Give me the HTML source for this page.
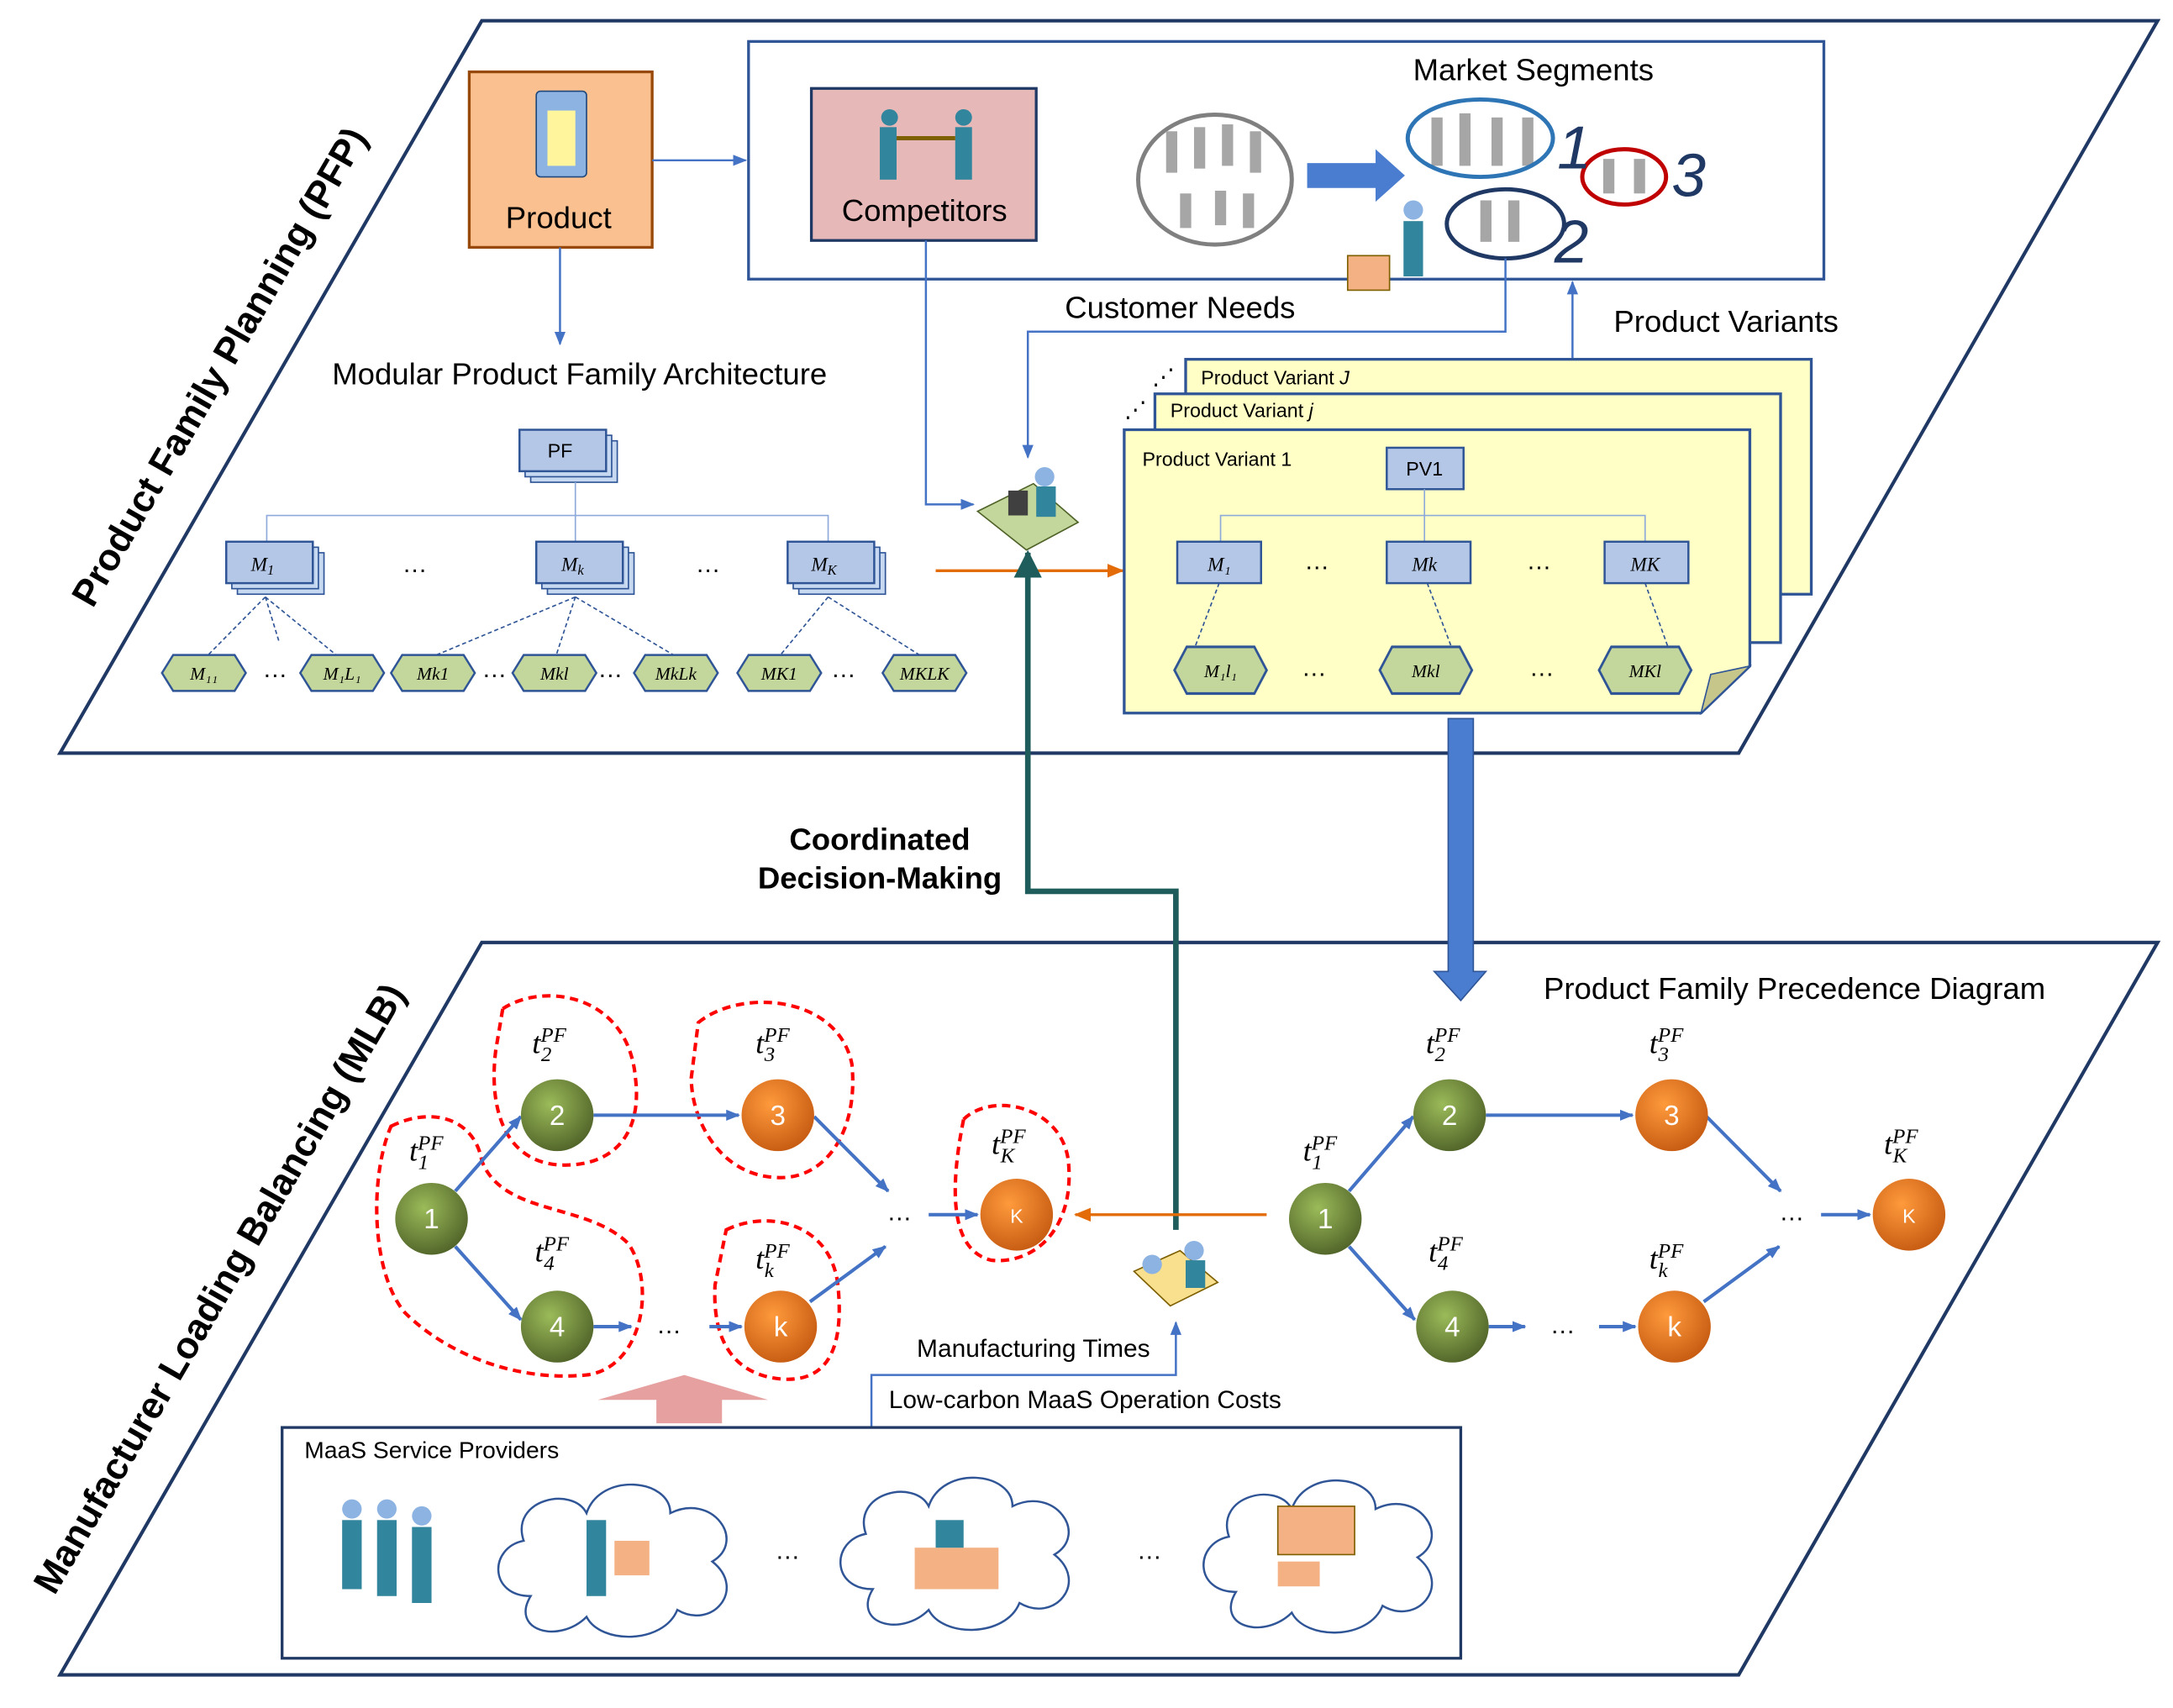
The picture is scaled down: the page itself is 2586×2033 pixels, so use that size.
<!DOCTYPE html>
<html><head><meta charset="utf-8"><style>html,body{margin:0;padding:0;background:#fff}svg{display:block}</style></head>
<body>
<svg width="2586" height="2033" viewBox="0 0 1556 1236" preserveAspectRatio="none" xmlns="http://www.w3.org/2000/svg" font-family="Liberation Sans, sans-serif">
<defs>
<marker id="a" markerUnits="userSpaceOnUse" markerWidth="10" markerHeight="8" refX="9" refY="4" orient="auto"><path d="M0,0 L10,4 L0,8 z" fill="#4472c4"/></marker>
<marker id="ao" markerUnits="userSpaceOnUse" markerWidth="12" markerHeight="10" refX="11" refY="5" orient="auto"><path d="M0,0 L12,5 L0,10 z" fill="#e36c09"/></marker>
<marker id="at" markerUnits="userSpaceOnUse" markerWidth="20" markerHeight="20" refX="18" refY="10" orient="auto"><path d="M0,0 L20,10 L0,20 z" fill="#1f5c5c"/></marker>
<radialGradient id="g" cx="0.4" cy="0.35" r="0.7"><stop offset="0" stop-color="#9bbb59"/><stop offset="1" stop-color="#4f6228"/></radialGradient>
<radialGradient id="o" cx="0.4" cy="0.35" r="0.7"><stop offset="0" stop-color="#ff9a3c"/><stop offset="1" stop-color="#c55a11"/></radialGradient>
<g id="mb"><rect x="8" y="8" width="62" height="30" fill="#c6d9f1" stroke="#2f5597"/><rect x="4" y="4" width="62" height="30" fill="#c6d9f1" stroke="#2f5597"/><rect x="0" y="0" width="62" height="30" fill="#b4c7e7" stroke="#2f5597" stroke-width="1.5"/></g>
<path id="hx" d="M-30,0 L-22,-13 L22,-13 L30,0 L22,13 L-22,13 z" fill="#c3d69b" stroke="#2f5597" stroke-width="1.5"/>
<g id="cl"><path d="M-60,30 C-90,30 -90,-5 -65,-10 C-75,-40 -30,-50 -20,-30 C-10,-60 40,-55 40,-30 C70,-45 95,-10 70,5 C95,25 70,55 45,40 C35,65 -10,65 -20,45 C-40,65 -75,55 -60,30 z" fill="#fff" stroke="#2f5597" stroke-width="1.5"/></g>
</defs>
<polygon points="345,15 1545,15 1245,545 43,545" fill="#fff" stroke="#1f3864" stroke-width="2.5"/>
<polygon points="345,682 1545,682 1245,1212 43,1212" fill="#fff" stroke="#1f3864" stroke-width="2.5"/>
<text transform="translate(165,270) rotate(-60)" text-anchor="middle" font-size="27" font-weight="bold">Product Family Planning (PFP)</text>
<text transform="translate(165,937) rotate(-60)" text-anchor="middle" font-size="27" font-weight="bold">Manufacturer Loading Balancing (MLB)</text>

<rect x="336" y="52" width="131" height="127" fill="#fac090" stroke="#984807" stroke-width="2"/>
<rect x="384" y="66" width="36" height="62" rx="3" fill="#8db3e2" stroke="#1f497d"/><rect x="392" y="80" width="20" height="40" fill="#fff59d"/>
<text x="400" y="165" text-anchor="middle" font-size="22">Product</text>
<rect x="536" y="30" width="770" height="172" fill="#fff" stroke="#2f5597" stroke-width="2"/>
<rect x="581" y="64" width="161" height="110" fill="#e6b9b8" stroke="#1f3864" stroke-width="2"/>
<g fill="#31859c"><circle cx="637" cy="85" r="6"/><rect x="630" y="92" width="12" height="38"/><circle cx="690" cy="85" r="6"/><rect x="684" y="92" width="12" height="38"/></g>
<line x1="642" y1="100" x2="684" y2="100" stroke="#7f6000" stroke-width="3"/>
<text x="662" y="160" text-anchor="middle" font-size="22">Competitors</text>
<text x="1098" y="58" text-anchor="middle" font-size="22">Market Segments</text>
<ellipse cx="870" cy="130" rx="55" ry="47" fill="#fff" stroke="#808080" stroke-width="3"/>
<g fill="#a6a6a6"><rect x="835" y="95" width="8" height="30"/><rect x="855" y="92" width="8" height="30"/><rect x="875" y="90" width="8" height="30"/><rect x="895" y="95" width="8" height="30"/><rect x="845" y="140" width="8" height="25"/><rect x="870" y="138" width="8" height="25"/><rect x="890" y="140" width="8" height="25"/></g>
<path d="M936,118 L985,118 L985,108 L1006,127 L985,146 L985,136 L936,136 z" fill="#4a7dd0"/>
<g fill="#a6a6a6"><rect x="1025" y="85" width="8" height="35"/><rect x="1045" y="82" width="8" height="38"/><rect x="1068" y="85" width="8" height="35"/><rect x="1090" y="85" width="8" height="35"/><rect x="1148" y="115" width="8" height="25"/><rect x="1170" y="115" width="8" height="25"/><rect x="1060" y="145" width="8" height="30"/><rect x="1080" y="145" width="8" height="30"/></g>
<ellipse cx="1060" cy="100" rx="52" ry="28" fill="none" stroke="#2e75b6" stroke-width="3"/>
<ellipse cx="1163" cy="128" rx="30" ry="20" fill="none" stroke="#c00000" stroke-width="3"/>
<ellipse cx="1078" cy="162" rx="42" ry="25" fill="none" stroke="#1f3864" stroke-width="3"/>
<g font-size="44" font-style="italic" fill="#1f3864"><text x="1115" y="122">1</text><text x="1197" y="142">3</text><text x="1113" y="190">2</text></g>
<rect x="965" y="185" width="30" height="25" fill="#f4b183" stroke="#7f6000"/><circle cx="1012" cy="152" r="7" fill="#8db3e2"/><rect x="1005" y="160" width="14" height="40" fill="#31859c"/>
<text x="845" y="230" text-anchor="middle" font-size="22">Customer Needs</text>
<text x="1236" y="240" text-anchor="middle" font-size="22">Product Variants</text>
<line x1="467" y1="116" x2="534" y2="116" stroke="#4472c4" stroke-width="1.5" marker-end="url(#a)"/>
<line x1="401" y1="179" x2="401" y2="249" stroke="#4472c4" stroke-width="1.5" marker-end="url(#a)"/>
<text x="415" y="278" text-anchor="middle" font-size="22">Modular Product Family Architecture</text>
<polyline points="663,174 663,365 697,365" fill="none" stroke="#4472c4" stroke-width="1.5" marker-end="url(#a)"/>
<polyline points="1078,187 1078,240 736,240 736,331" fill="none" stroke="#4472c4" stroke-width="1.5" marker-end="url(#a)"/>
<line x1="1126" y1="262" x2="1126" y2="204" stroke="#4472c4" stroke-width="1.5" marker-end="url(#a)"/>
<path d="M700,370 L740,350 L772,378 L735,398 z" fill="#c3d69b" stroke="#4f6228"/><circle cx="748" cy="345" r="7" fill="#8db3e2"/><rect x="742" y="352" width="14" height="22" fill="#31859c"/><rect x="722" y="355" width="14" height="18" fill="#404040"/>
<line x1="670" y1="413" x2="804" y2="413" stroke="#e36c09" stroke-width="2" marker-end="url(#ao)"/>
<polyline points="842,890 842,645 736,645 736,400" fill="none" stroke="#1f5c5c" stroke-width="4" marker-end="url(#at)"/>
<text x="630" y="615" text-anchor="middle" font-size="22" font-weight="bold">Coordinated</text>
<text x="630" y="643" text-anchor="middle" font-size="22" font-weight="bold">Decision-Making</text>
<path d="M1037,520 L1055,520 L1055,703 L1064,703 L1046,724 L1027,703 L1037,703 z" fill="#4a7dd0" stroke="#2f5597"/>

<use href="#mb" x="372" y="311"/><text x="401" y="331" text-anchor="middle" font-size="14">PF</text>
<polyline points="191,392 191,373 593,373 593,392" fill="none" stroke="#8eaadb"/><line x1="412" y1="349" x2="412" y2="392" stroke="#8eaadb"/>
<use href="#mb" x="162" y="392"/><use href="#mb" x="384" y="392"/><use href="#mb" x="564" y="392"/>
<g font-family="Liberation Serif, serif" font-style="italic" font-size="14" text-anchor="middle"><text x="188" y="413">M<tspan font-size="10" dy="3">1</tspan></text><text x="410" y="413">M<tspan font-size="10" dy="3">k</tspan></text><text x="590" y="413">M<tspan font-size="10" dy="3">K</tspan></text></g>
<g font-size="18"><text x="288" y="414">…</text><text x="498" y="414">…</text></g>
<g stroke="#2f5597" stroke-dasharray="3,2" fill="none"><line x1="190" y1="432" x2="148" y2="475"/><line x1="190" y1="432" x2="200" y2="465"/><line x1="190" y1="432" x2="242" y2="475"/><line x1="412" y1="432" x2="310" y2="475"/><line x1="412" y1="432" x2="398" y2="475"/><line x1="412" y1="432" x2="484" y2="475"/><line x1="593" y1="432" x2="558" y2="475"/><line x1="593" y1="432" x2="660" y2="475"/></g>
<use href="#hx" x="146" y="487"/><use href="#hx" x="245" y="487"/><use href="#hx" x="310" y="487"/><use href="#hx" x="397" y="487"/><use href="#hx" x="484" y="487"/><use href="#hx" x="558" y="487"/><use href="#hx" x="662" y="487"/>
<g font-family="Liberation Serif, serif" font-style="italic" font-size="13" text-anchor="middle"><text x="146" y="492">M₁₁</text><text x="245" y="492">M₁L₁</text><text x="310" y="492">Mk1</text><text x="397" y="492">Mkl</text><text x="484" y="492">MkLk</text><text x="558" y="492">MK1</text><text x="662" y="492">MKLK</text></g>
<g font-size="18"><text x="188" y="490">…</text><text x="345" y="490">…</text><text x="428" y="490">…</text><text x="595" y="490">…</text></g>

<rect x="849" y="260" width="448" height="170" fill="#ffffc6" stroke="#2f5597" stroke-width="2"/>
<rect x="827" y="285" width="448" height="180" fill="#ffffc6" stroke="#2f5597" stroke-width="2"/>
<path d="M805,311 L1253,311 L1253,482 L1218,516 L805,516 z" fill="#ffffc6" stroke="#2f5597" stroke-width="2"/>
<path d="M1218,516 L1225,488 L1253,482 z" fill="#c6c68a" stroke="#2f5597"/>
<text x="860" y="278" font-size="14">Product Variant <tspan font-style="italic">J</tspan></text>
<text x="838" y="302" font-size="14">Product Variant <tspan font-style="italic">j</tspan></text>
<text x="818" y="337" font-size="14">Product Variant  1</text>
<text x="825" y="278" font-size="16">⋰</text><text x="805" y="302" font-size="16">⋰</text>
<rect x="993" y="324" width="55" height="30" fill="#b4c7e7" stroke="#2f5597" stroke-width="1.5"/><text x="1020" y="344" text-anchor="middle" font-size="14">PV1</text>
<polyline points="874,392 874,373 1178,373 1178,392" fill="none" stroke="#8eaadb"/><line x1="1020" y1="354" x2="1020" y2="392" stroke="#8eaadb"/>
<rect x="843" y="392" width="60" height="30" fill="#b4c7e7" stroke="#2f5597" stroke-width="1.5"/><rect x="993" y="392" width="60" height="30" fill="#b4c7e7" stroke="#2f5597" stroke-width="1.5"/><rect x="1149" y="392" width="60" height="30" fill="#b4c7e7" stroke="#2f5597" stroke-width="1.5"/>
<g font-family="Liberation Serif, serif" font-style="italic" font-size="14" text-anchor="middle"><text x="873" y="413">M₁</text><text x="1020" y="413">Mk</text><text x="1178" y="413">MK</text></g>
<g font-size="18"><text x="934" y="412">…</text><text x="1093" y="412">…</text><text x="932" y="489">…</text><text x="1095" y="489">…</text></g>
<g stroke="#2f5597" stroke-dasharray="3,2"><line x1="873" y1="422" x2="855" y2="470"/><line x1="1022" y1="422" x2="1040" y2="470"/><line x1="1178" y1="422" x2="1195" y2="470"/></g>
<g transform="translate(874,485) scale(1.1,1.3)"><use href="#hx"/></g><g transform="translate(1021,485) scale(1.1,1.3)"><use href="#hx"/></g><g transform="translate(1178,485) scale(1.1,1.3)"><use href="#hx"/></g>
<g font-family="Liberation Serif, serif" font-style="italic" font-size="13" text-anchor="middle"><text x="874" y="490">M₁l₁</text><text x="1021" y="490">Mkl</text><text x="1178" y="490">MKl</text></g>

<text x="1285" y="723" text-anchor="middle" font-size="22">Product Family Precedence Diagram</text>
<g fill="none" stroke="#ff0000" stroke-width="2.5" stroke-dasharray="6,4">
<path d="M360,730 C390,710 450,720 455,780 C460,820 440,845 400,843 C360,840 350,800 355,760 z"/>
<path d="M500,740 C530,715 600,720 610,770 C615,820 590,855 555,852 C515,850 495,810 495,780 z"/>
<path d="M690,810 C710,790 760,800 765,840 C770,890 740,915 710,912 C680,905 680,860 690,810 z"/>
<path d="M520,890 C550,875 595,885 600,930 C605,980 590,1000 560,998 C525,995 510,970 512,930 z"/>
<path d="M280,815 C310,800 340,810 345,840 C360,880 420,870 450,900 C470,930 460,990 420,995 C370,1000 320,980 290,950 C265,920 265,850 280,815 z"/>
</g>
<g stroke="#4472c4" stroke-width="2.5" fill="none">
<line x1="326" y1="862" x2="373" y2="808" marker-end="url(#a)"/><line x1="326" y1="902" x2="373" y2="955" marker-end="url(#a)"/><line x1="425" y1="807" x2="529" y2="807" marker-end="url(#a)"/><line x1="583" y1="808" x2="636" y2="862" marker-end="url(#a)"/><line x1="425" y1="960" x2="452" y2="960" marker-end="url(#a)"/><line x1="508" y1="960" x2="531" y2="960" marker-end="url(#a)"/><line x1="580" y1="942" x2="634" y2="902" marker-end="url(#a)"/><line x1="665" y1="879" x2="700" y2="879" marker-end="url(#a)"/>
<line x1="966" y1="862" x2="1012" y2="808" marker-end="url(#a)"/><line x1="966" y1="902" x2="1013" y2="955" marker-end="url(#a)"/><line x1="1064" y1="807" x2="1169" y2="807" marker-end="url(#a)"/><line x1="1222" y1="808" x2="1275" y2="862" marker-end="url(#a)"/><line x1="1066" y1="960" x2="1092" y2="960" marker-end="url(#a)"/><line x1="1145" y1="960" x2="1171" y2="960" marker-end="url(#a)"/><line x1="1220" y1="942" x2="1274" y2="902" marker-end="url(#a)"/><line x1="1304" y1="879" x2="1339" y2="879" marker-end="url(#a)"/>
</g>
<g font-size="18"><text x="635" y="883">…</text><text x="470" y="965">…</text><text x="1274" y="883">…</text><text x="1110" y="965">…</text></g>
<g font-size="20" fill="#fff" text-anchor="middle">
<circle cx="309" cy="882" r="26" fill="url(#g)"/><text x="309" y="889">1</text>
<circle cx="399" cy="807" r="26" fill="url(#g)"/><text x="399" y="814">2</text>
<circle cx="557" cy="807" r="26" fill="url(#o)"/><text x="557" y="814">3</text>
<circle cx="399" cy="960" r="26" fill="url(#g)"/><text x="399" y="967">4</text>
<circle cx="559" cy="960" r="26" fill="url(#o)"/><text x="559" y="967">k</text>
<circle cx="728" cy="879" r="26" fill="url(#o)"/><text x="728" y="885" font-size="14">K</text>
<circle cx="949" cy="882" r="26" fill="url(#g)"/><text x="949" y="889">1</text>
<circle cx="1038" cy="807" r="26" fill="url(#g)"/><text x="1038" y="814">2</text>
<circle cx="1197" cy="807" r="26" fill="url(#o)"/><text x="1197" y="814">3</text>
<circle cx="1040" cy="960" r="26" fill="url(#g)"/><text x="1040" y="967">4</text>
<circle cx="1199" cy="960" r="26" fill="url(#o)"/><text x="1199" y="967">k</text>
<circle cx="1367" cy="879" r="26" fill="url(#o)"/><text x="1367" y="885" font-size="14">K</text>
</g>
<g font-family="Liberation Serif, serif" font-style="italic" font-size="22">
<text x="293" y="840">t<tspan font-size="15" dy="-8">PF</tspan><tspan font-size="15" dx="-18" dy="14">1</tspan></text>
<text x="381" y="762">t<tspan font-size="15" dy="-8">PF</tspan><tspan font-size="15" dx="-18" dy="14">2</tspan></text>
<text x="541" y="762">t<tspan font-size="15" dy="-8">PF</tspan><tspan font-size="15" dx="-18" dy="14">3</tspan></text>
<text x="383" y="913">t<tspan font-size="15" dy="-8">PF</tspan><tspan font-size="15" dx="-18" dy="14">4</tspan></text>
<text x="541" y="918">t<tspan font-size="15" dy="-8">PF</tspan><tspan font-size="15" dx="-18" dy="14">k</tspan></text>
<text x="710" y="835">t<tspan font-size="15" dy="-8">PF</tspan><tspan font-size="15" dx="-18" dy="14">K</tspan></text>
<text x="933" y="840">t<tspan font-size="15" dy="-8">PF</tspan><tspan font-size="15" dx="-18" dy="14">1</tspan></text>
<text x="1021" y="762">t<tspan font-size="15" dy="-8">PF</tspan><tspan font-size="15" dx="-18" dy="14">2</tspan></text>
<text x="1181" y="762">t<tspan font-size="15" dy="-8">PF</tspan><tspan font-size="15" dx="-18" dy="14">3</tspan></text>
<text x="1023" y="913">t<tspan font-size="15" dy="-8">PF</tspan><tspan font-size="15" dx="-18" dy="14">4</tspan></text>
<text x="1181" y="918">t<tspan font-size="15" dy="-8">PF</tspan><tspan font-size="15" dx="-18" dy="14">k</tspan></text>
<text x="1349" y="835">t<tspan font-size="15" dy="-8">PF</tspan><tspan font-size="15" dx="-18" dy="14">K</tspan></text>
</g>
<line x1="907" y1="879" x2="770" y2="879" stroke="#e36c09" stroke-width="2" marker-end="url(#ao)"/>
<path d="M812,920 L845,905 L872,928 L838,945 z" fill="#f9e08f" stroke="#7f6000"/><circle cx="855" cy="905" r="7" fill="#8db3e2"/><rect x="849" y="912" width="14" height="20" fill="#31859c"/><circle cx="825" cy="915" r="7" fill="#8db3e2"/>
<polyline points="624,1033 624,995 842,995 842,957" fill="none" stroke="#4472c4" stroke-width="1.5" marker-end="url(#a)"/>
<text x="740" y="982" text-anchor="middle" font-size="18">Manufacturing Times</text>
<text x="777" y="1019" text-anchor="middle" font-size="18">Low-carbon MaaS Operation Costs</text>
<path d="M470,1030 L470,1013 L428,1013 L490,995 L550,1013 L517,1013 L517,1030 z" fill="#e6a0a0"/>
<rect x="202" y="1033" width="844" height="167" fill="#fff" stroke="#1f3864" stroke-width="2"/>
<text x="218" y="1055" font-size="17">MaaS Service Providers</text>
<g fill="#31859c"><rect x="245" y="1100" width="14" height="50"/><rect x="270" y="1100" width="14" height="55"/><rect x="295" y="1105" width="14" height="55"/><circle cx="252" cy="1092" r="7" fill="#8db3e2"/><circle cx="277" cy="1092" r="7" fill="#8db3e2"/><circle cx="302" cy="1097" r="7" fill="#8db3e2"/></g>
<use href="#cl" x="440" y="1125"/><use href="#cl" x="685" y="1120"/><use href="#cl" x="945" y="1122"/>
<rect x="420" y="1100" width="14" height="55" fill="#31859c"/><rect x="440" y="1115" width="25" height="25" fill="#f4b183"/>
<rect x="655" y="1120" width="60" height="30" fill="#f4b183"/><rect x="670" y="1100" width="20" height="20" fill="#31859c"/>
<rect x="915" y="1090" width="55" height="35" fill="#f4b183" stroke="#7f6000"/><rect x="915" y="1130" width="30" height="18" fill="#f4b183"/>
<g font-size="18"><text x="555" y="1128">…</text><text x="814" y="1128">…</text></g>
</svg>
</body></html>
